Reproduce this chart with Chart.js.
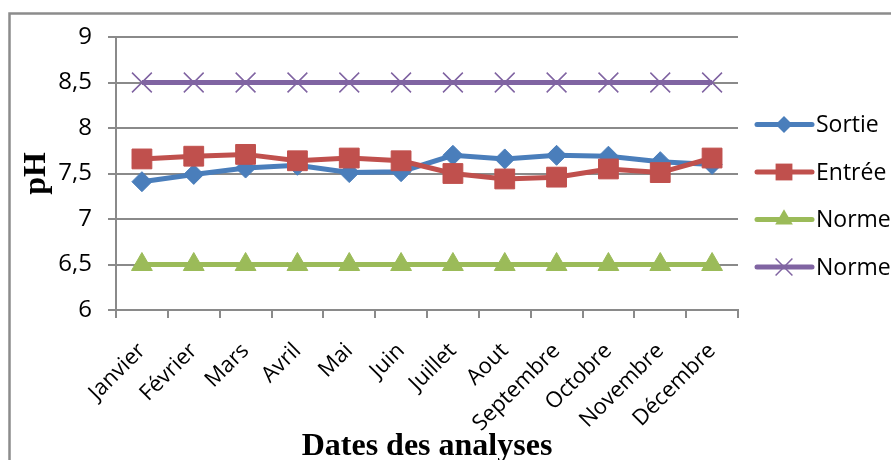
<!DOCTYPE html>
<html>
<head>
<meta charset="utf-8">
<script src="https://cdn.jsdelivr.net/npm/chart.js@4.4.1/dist/chart.umd.min.js"></script>
<style>
  html, body { margin: 0; padding: 0; background: #ffffff; }
  #wrap { width: 891px; height: 460px; position: relative; }
</style>
</head>
<body>
<div id="wrap"><canvas id="ph" width="891" height="460"></canvas></div>
<script>
// Mois d'analyse
const months = ['Janvier', 'Février', 'Mars', 'Avril', 'Mai', 'Juin', 'Juillet',
                'Aout', 'Septembre', 'Octobre', 'Novembre', 'Décembre'];
// pH mesuré en sortie et en entrée
const sortie = [7.41, 7.49, 7.56, 7.59, 7.51, 7.52, 7.70, 7.66, 7.70, 7.69, 7.63, 7.60];
const entree = [7.66, 7.69, 7.71, 7.64, 7.67, 7.64, 7.50, 7.44, 7.46, 7.55, 7.51, 7.67];
// Limites de la norme
const normeMin = [6.5, 6.5, 6.5, 6.5, 6.5, 6.5, 6.5, 6.5, 6.5, 6.5, 6.5, 6.5];
const normeMax = [8.5, 8.5, 8.5, 8.5, 8.5, 8.5, 8.5, 8.5, 8.5, 8.5, 8.5, 8.5];
// Graduations de l'axe des pH
const phTicks = [6, 6.5, 7, 7.5, 8, 8.5, 9];

const GRID = '#8a8a8a';
const SANS = '"Open Sans", "Noto Sans", sans-serif';
const SERIF = '"Liberation Serif", "DejaVu Serif", serif';

function series(label, data, color, style, radius, order, extra) {
  return Object.assign({
    label, data, order,
    borderColor: color,
    backgroundColor: color,
    borderWidth: 5,
    pointStyle: style,
    pointRadius: radius,
    pointHoverRadius: radius,
    pointBackgroundColor: color,
    pointBorderColor: color,
    pointBorderWidth: 1,
    tension: 0,
    fill: false
  }, extra || {});
}

const datasets = [
  series('Sortie', sortie, '#4a7ebb', 'rectRot', 10, 4),
  series('Entrée', entree, '#c0504d', 'rect', 14, 3),
  series('Norme', normeMin, '#9bbb59', 'triangle', 12, 2),
  series('Norme', normeMax, '#8064a2', 'crossRot', 14, 1, { pointBorderWidth: 1.5 })
];

// Cadre extérieur du graphique
const framePlugin = {
  id: 'frame',
  beforeDraw(chart) {
    const ctx = chart.ctx;
    ctx.save();
    ctx.fillStyle = '#ffffff';
    ctx.fillRect(0, 0, chart.width, chart.height);
    ctx.strokeStyle = '#8c8c8c';
    ctx.lineWidth = 2.5;
    ctx.strokeRect(9.5, 13.5, 1000, 600);
    ctx.restore();
  }
};

function drawMarker(ctx, style, x, y, r, color, lw) {
  ctx.save();
  ctx.fillStyle = color;
  ctx.strokeStyle = color;
  ctx.lineWidth = lw;
  ctx.beginPath();
  if (style === 'rectRot') {
    ctx.moveTo(x, y - r); ctx.lineTo(x + r, y); ctx.lineTo(x, y + r); ctx.lineTo(x - r, y);
    ctx.closePath(); ctx.fill();
  } else if (style === 'rect') {
    const s = r * Math.SQRT1_2;
    ctx.rect(x - s, y - s, 2 * s, 2 * s); ctx.fill();
  } else if (style === 'triangle') {
    ctx.moveTo(x, y - r);
    ctx.lineTo(x + r * Math.sin(Math.PI / 3), y + r / 2);
    ctx.lineTo(x - r * Math.sin(Math.PI / 3), y + r / 2);
    ctx.closePath(); ctx.fill();
  } else if (style === 'crossRot') {
    const d = r * Math.SQRT1_2;
    ctx.moveTo(x - d, y - d); ctx.lineTo(x + d, y + d);
    ctx.moveTo(x + d, y - d); ctx.lineTo(x - d, y + d);
    ctx.stroke();
  }
  ctx.restore();
}

// Légende : trait + marqueur + libellé, à droite du tracé
const legendPlugin = {
  id: 'sideLegend',
  afterDraw(chart) {
    const ctx = chart.ctx;
    const x0 = 757, x1 = 812, xm = 784, xt = 816;
    const ys = [124.5, 172, 219.5, 267];
    chart.data.datasets.forEach((ds, i) => {
      const y = ys[i];
      ctx.save();
      ctx.strokeStyle = ds.borderColor;
      ctx.lineWidth = 5;
      ctx.lineCap = 'round';
      ctx.beginPath(); ctx.moveTo(x0, y); ctx.lineTo(x1, y); ctx.stroke();
      ctx.restore();
      drawMarker(ctx, ds.pointStyle, xm, y, ds.pointRadius * 0.85, ds.borderColor, ds.pointBorderWidth);
      ctx.save();
      ctx.fillStyle = '#000000';
      ctx.font = '23px ' + SANS;
      ctx.textAlign = 'left';
      ctx.textBaseline = 'middle';
      ctx.fillText(ds.label, xt, y + 1);
      ctx.restore();
    });
  }
};

new Chart(document.getElementById('ph'), {
  type: 'line',
  data: { labels: months, datasets },
  plugins: [framePlugin, legendPlugin],
  options: {
    responsive: false,
    animation: false,
    devicePixelRatio: 1,
    layout: { padding: { top: 37, right: 153, bottom: 0, left: 0 } },
    plugins: {
      legend: { display: false },
      tooltip: { enabled: false },
      title: { display: false }
    },
    scales: {
      x: {
        type: 'category',
        offset: true,
        grid: {
          offset: true,
          drawOnChartArea: false,
          drawTicks: true,
          tickLength: 8,
          color: GRID,
          lineWidth: 2
        },
        border: { display: true, color: GRID, width: 2 },
        ticks: {
          autoSkip: false,
          maxRotation: 45,
          minRotation: 45,
          padding: 20,
          color: '#000000',
          font: { family: SANS, size: 22 }
        },
        title: {
          display: true,
          text: 'Dates des analyses',
          color: '#000000',
          font: { family: SERIF, size: 32, weight: 'bold', lineHeight: 0.8 },
          padding: { top: 0, bottom: 0 }
        },
        afterFit(scale) { scale.height = 150; }
      },
      y: {
        min: phTicks[0],
        max: phTicks[phTicks.length - 1],
        afterBuildTicks(scale) { scale.ticks = phTicks.map(v => ({ value: v })); },
        grid: {
          drawOnChartArea: true,
          drawTicks: true,
          tickLength: 8,
          color: GRID,
          lineWidth: 2
        },
        border: { display: true, color: GRID, width: 2 },
        ticks: {
          padding: 16,
          color: '#000000',
          font: { family: SANS, size: 24 },
          callback: v => String(v).replace('.', ',')
        },
        title: {
          display: true,
          text: 'pH',
          color: '#000000',
          font: { family: SERIF, size: 32, weight: 'bold', lineHeight: 1 },
          padding: { top: 21, bottom: 0 }
        },
        afterFit(scale) { scale.width = 116; }
      }
    }
  }
});
</script>
</body>
</html>
